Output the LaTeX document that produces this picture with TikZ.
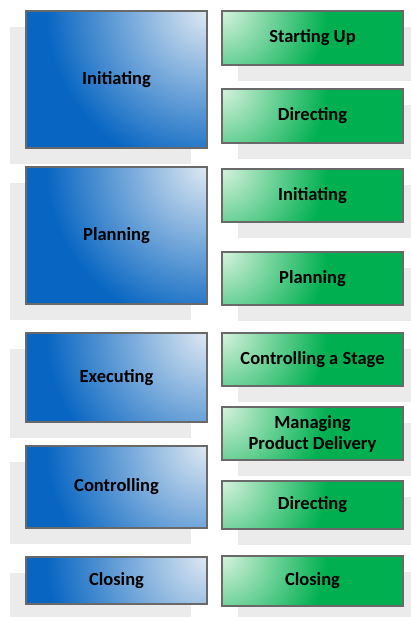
\documentclass[tikz,border=0pt]{standalone}
\usepackage{fontspec}
\setmainfont{Carlito}
\usetikzlibrary{shadows}

\definecolor{bluedark}{RGB}{8,102,194}
\definecolor{bluelight}{RGB}{222,232,242}
\definecolor{greendark}{RGB}{0,176,80}
\definecolor{greenlight}{RGB}{214,242,221}
\definecolor{shadowgray}{RGB}{235,235,235}
\definecolor{edgegray}{RGB}{105,105,105}

\pgfdeclareradialshading{phaseglow}{\pgfpointorigin}{color(0bp)=(bluelight); color(160bp)=(bluedark)}
\pgfdeclareradialshading{processglow}{\pgfpointorigin}{color(0bp)=(greenlight); color(105bp)=(greendark)}

\begin{document}
\begin{tikzpicture}[x=1pt, y=-1pt,
    box/.style={rectangle, draw=edgegray, line width=1.2pt, inner sep=0pt,
      minimum width=181pt, align=center, font=\bfseries\fontsize{18.5}{21}\selectfont,
      general shadow={fill=shadowgray, shadow xshift=#1, shadow yshift=-16pt}},
    phase/.style={box=-16pt, fill=bluedark, path picture={
      \node[inner sep=0pt] at (path picture bounding box.north east) {\pgfuseshading{phaseglow}};}},
    process/.style={box=16pt, fill=greendark, path picture={
      \node[inner sep=0pt] at (path picture bounding box.north west) {\pgfuseshading{processglow}};}}]
  \clip (0,0) rectangle (411,617);
  \fill[white] (0,0) rectangle (411,617);

  % phases
  \node[phase, minimum height=137pt] (initiating) at (116.5,79.5) {Initiating};
  \node[phase, minimum height=137pt] (planning) at (116.5,235.5) {Planning};
  \node[phase, minimum height=89pt] (executing) at (116.5,377.5) {Executing};
  \node[phase, minimum height=82pt] (controlling) at (116.5,487) {Controlling};
  \node[phase, minimum height=47pt] (closing) at (116.5,580.5) {Closing};

  % processes
  \node[process, minimum height=54pt] (startup) at (312.5,38) {Starting Up};
  \node[process, minimum height=54pt] (directing) at (312.5,116) {Directing};
  \node[process, minimum height=53pt] (initproject) at (312.5,195.5) {Initiating};
  \node[process, minimum height=53pt] (planstage) at (312.5,278.5) {Planning};
  \node[process, minimum height=53pt] (control) at (312.5,359.5) {Controlling a Stage};
  \node[process, minimum height=53pt] (delivery) at (312.5,433.5) {Managing\\Product Delivery};
  \node[process, minimum height=48pt] (directing2) at (312.5,505) {Directing};
  \node[process, minimum height=50pt] (closeproject) at (312.5,581) {Closing};
\end{tikzpicture}
\end{document}
